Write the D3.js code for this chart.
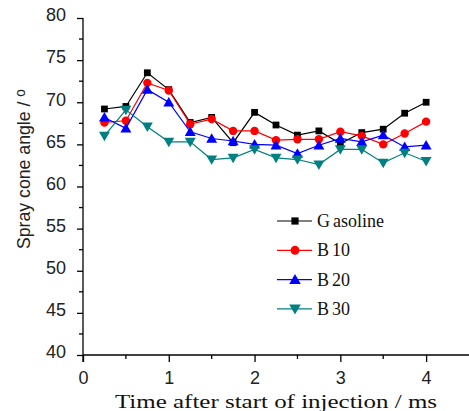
<!DOCTYPE html>
<html>
<head>
<meta charset="utf-8">
<script src="https://cdn.jsdelivr.net/npm/d3@7"></script>
<style>
  html, body { margin: 0; padding: 0; background: #fff; }
  svg { display: block; }
</style>
</head>
<body>
<svg id="chart" width="469" height="411"></svg>
<script>
// Spray cone angle vs. time after start of injection, four fuels
const times = [0.25, 0.5, 0.75, 1.0, 1.25, 1.5, 1.75, 2.0, 2.25, 2.5, 2.75, 3.0, 3.25, 3.5, 3.75, 4.0];
const gasoline = [69.2, 69.5, 73.5, 71.5, 67.6, 68.2, 65.2, 68.8, 67.3, 66.1, 66.6, 65.1, 66.4, 66.8, 68.7, 70.0];
const b10 = [67.6, 67.8, 72.3, 71.4, 67.4, 68.0, 66.6, 66.6, 65.5, 65.6, 65.6, 66.5, 66.0, 65.0, 66.3, 67.7];
const b20 = [68.2, 66.9, 71.5, 70.0, 66.5, 65.7, 65.4, 65.0, 64.9, 63.9, 64.9, 65.7, 65.3, 66.1, 64.7, 64.9];
const b30 = [66.0, 69.1, 67.1, 65.3, 65.3, 63.2, 63.4, 64.4, 63.4, 63.2, 62.6, 64.4, 64.4, 62.8, 64.0, 63.0];

const seriesNames = ["Gasoline", "B10", "B20", "B30"];
const xTicks = [0, 1, 2, 3, 4];
const yTicks = [40, 45, 50, 55, 60, 65, 70, 75, 80];
const xTitle = "Time after start of injection / ms";
const yTitle = "Spray cone angle / ";

const svg = d3.select("#chart");
const x = d3.scaleLinear().domain([0, 4.5]).range([83, 469]);
const y = d3.scaleLinear().domain([40, 80]).range([355, 18]);

const styles = [
  { color: "#000000", shape: d3.symbolSquare, size: 46, rot: 0 },
  { color: "#ff0000", shape: d3.symbolCircle, size: 56, rot: 0 },
  { color: "#0000ff", shape: d3.symbolTriangle, size: 52, rot: 0 },
  { color: "#008080", shape: d3.symbolTriangle, size: 52, rot: 180 }
];
const series = [gasoline, b10, b20, b30];

// Axes
const axisFont = "'Liberation Sans', Arial, sans-serif";
const yAxis = d3.axisLeft(y).tickValues(yTicks).tickSize(6).tickPadding(11).tickFormat(d3.format("d"));
const gy = svg.append("g").attr("transform", "translate(83,0)").call(yAxis);
gy.select(".domain").attr("d", "M0,18V362").attr("stroke", "#000").attr("stroke-width", 1.3);
gy.selectAll(".tick line").attr("stroke", "#000").attr("stroke-width", 1.3);
gy.selectAll(".tick text").attr("font-family", axisFont).attr("font-size", 18)
  .attr("fill", "#222").attr("dy", "0.32em").attr("y", -3);

const yMinor = d3.range(42.5, 80, 5);
gy.selectAll(".minor").data(yMinor).enter().append("line")
  .attr("x1", 0).attr("x2", -4).attr("y1", d => y(d)).attr("y2", d => y(d))
  .attr("stroke", "#000").attr("stroke-width", 1.3);

const xAxis = d3.axisBottom(x).tickValues(xTicks).tickSize(7).tickPadding(9).tickFormat(d3.format("d"));
const gx = svg.append("g").attr("transform", "translate(0,355)").call(xAxis);
gx.select(".domain").attr("d", "M83,0H469").attr("stroke", "#000").attr("stroke-width", 1.3);
gx.selectAll(".tick line").attr("stroke", "#000").attr("stroke-width", 1.3);
gx.selectAll(".tick text").attr("font-family", axisFont).attr("font-size", 18).attr("fill", "#222");

const xMinor = d3.range(0.5, 4.5, 1);
gx.selectAll(".minor").data(xMinor).enter().append("line")
  .attr("x1", d => x(d)).attr("x2", d => x(d)).attr("y1", 0).attr("y2", 4)
  .attr("stroke", "#000").attr("stroke-width", 1.3);

// Axis titles
svg.append("text")
  .attr("x", 276).attr("y", 408)
  .attr("text-anchor", "middle")
  .attr("font-family", "'Liberation Serif', 'Times New Roman', serif")
  .attr("font-size", 19).attr("fill", "#111")
  .attr("textLength", 322).attr("lengthAdjust", "spacingAndGlyphs")
  .text(xTitle);

const yt = svg.append("text")
  .attr("transform", "translate(30,169) rotate(-90)")
  .attr("text-anchor", "middle")
  .attr("font-family", axisFont)
  .attr("font-size", 18).attr("fill", "#222")
  .attr("textLength", 160).attr("lengthAdjust", "spacingAndGlyphs");
yt.append("tspan").text(yTitle);
yt.append("tspan").attr("dy", -5).attr("font-size", 14).text("o");

// Series lines and markers
const line = d3.line().x((d, i) => x(times[i])).y(d => y(d));
series.forEach((vals, k) => {
  const st = styles[k];
  svg.append("path").datum(vals)
    .attr("d", line).attr("fill", "none")
    .attr("stroke", st.color).attr("stroke-width", 1.2);
  svg.append("g").selectAll("path").data(vals).enter().append("path")
    .attr("d", d3.symbol().type(st.shape).size(st.size))
    .attr("transform", (d, i) => `translate(${x(times[i])},${y(d) + (st.rot ? -1 : (st.shape === d3.symbolTriangle ? 1 : 0))}) rotate(${st.rot})`)
    .attr("fill", st.color);
});

// Legend
const legendFont = "'Liberation Serif', 'Times New Roman', serif";
const lg = svg.append("g");
seriesNames.forEach((name, k) => {
  const st = styles[k];
  const ly = 221 + k * 29.3;
  lg.append("line").attr("x1", 277).attr("x2", 312).attr("y1", ly).attr("y2", ly)
    .attr("stroke", st.color).attr("stroke-width", 1.2);
  lg.append("path")
    .attr("d", d3.symbol().type(st.shape).size(st.size + 6))
    .attr("transform", `translate(295,${ly + (st.rot ? -1 : (st.shape === d3.symbolTriangle ? 1 : 0))}) rotate(${st.rot})`)
    .attr("fill", st.color);
  const t = lg.append("text").attr("x", 317).attr("y", ly + 6)
    .attr("font-family", legendFont).attr("font-size", 18).attr("fill", "#111");
  t.append("tspan").text(name.slice(0, 1));
  t.append("tspan").attr("dx", 3).text(name.slice(1));
});
</script>
</body>
</html>
